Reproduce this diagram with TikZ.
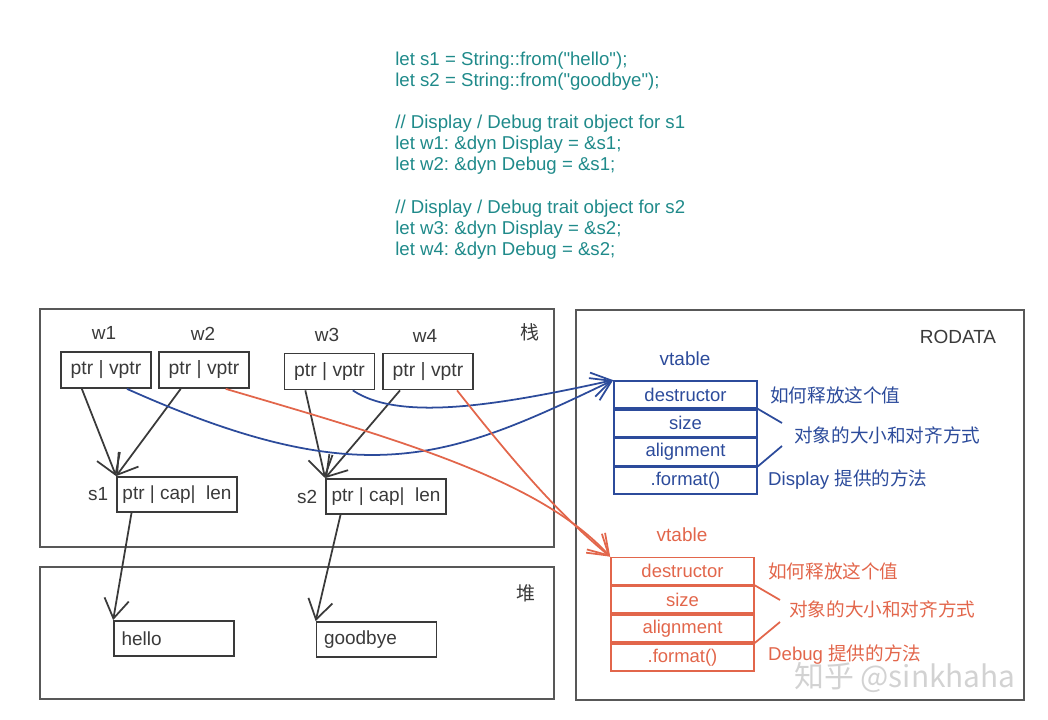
\documentclass[tikz,border=0pt]{standalone}
\usepackage{fontspec}
\setmainfont{Liberation Sans}
\newfontfamily\codefont{Liberation Sans}[Ligatures=TeXOff]
\newfontfamily\cjk{Noto Sans CJK SC}
\usepackage{tikz}
\usetikzlibrary{positioning}
\usetikzlibrary{arrows.meta}
\definecolor{codeteal}{HTML}{1F8A8A}
\definecolor{vblue}{HTML}{2C4B9B}
\definecolor{vred}{HTML}{E2664B}
\definecolor{boxgray}{HTML}{3A3A3A}
\frenchspacing
\tikzset{
	fatptr/.style={draw=boxgray, line width=1pt, minimum width=1.8cm, minimum height=0.72cm, inner sep=0pt, text=boxgray, font=\fontsize{11}{13}\selectfont},
	strbox/.style={fatptr, minimum width=2.4cm, minimum height=0.7cm, font=\fontsize{10.8}{13}\selectfont},
	heapbox/.style={strbox, text width=2.1cm, inner xsep=0.15cm, align=left},
	vrow/.style={draw, line width=1pt, minimum width=2.86cm, minimum height=0.54cm, inner sep=0pt, font=\fontsize{10.5}{12}\selectfont},
	lbl/.style={text=boxgray, font=\fontsize{10.8}{12}\selectfont},
	note/.style={anchor=west, font=\fontsize{10.6}{12}\selectfont},
	ptrarrow/.style={-{Straight Barb[length=11pt,width=14pt]}, line width=1pt, boxgray},
	varrow/.style={-{Straight Barb[length=11pt,width=14pt]}, line width=1pt},
	frame/.style={draw=boxgray!85, line width=1.1pt}
}
\begin{document}
\begin{tikzpicture}[x=0.02cm,y=-0.02cm]
				\useasboundingbox (0,0) rectangle (1048,720);
				%Code
				\node[anchor=north west, align=left, text=codeteal, font=\codefont\fontsize{10.6}{11.9}\selectfont, inner sep=0pt] (code) at (395,52)
					{let s1 = String::from("hello");\\
					let s2 = String::from("goodbye");\\[11.9pt]
					// Display / Debug trait object for s1\\
					let w1: \&dyn Display = \&s1;\\
					let w2: \&dyn Debug = \&s1;\\[12.5pt]
					// Display / Debug trait object for s2\\
					let w3: \&dyn Display = \&s2;\\
					let w4: \&dyn Debug = \&s2;};

				%Frames
				\draw[frame] (40,309) rectangle (554,547);
				\draw[frame] (40,567) rectangle (554,699);
				\draw[frame] (576,310) rectangle (1024,700);
				\node[lbl] (stacklbl) at (530,332) {\cjk 栈};
				\node[lbl] (heaplbl) at (526,593) {\cjk 堆};
				\node[lbl] (rolbl) at (958,337) {RODATA};

				%Nodes
				\node[fatptr] (w1box) at (106,370) {ptr | vptr};
				\node[fatptr] (w2box) at (204,370) {ptr | vptr};
				\node[fatptr] (w3box) at (329.5,371.5) {ptr | vptr};
				\node[fatptr] (w4box) at (428,371.5) {ptr | vptr};
				\node[lbl] (w1) at (104,333) {w1};
				\node[lbl] (w2) at (203,334) {w2};
				\node[lbl] (w3) at (327,335) {w3};
				\node[lbl] (w4) at (425,336) {w4};

				\node[strbox] (s1box) at (177,494.5) {ptr | cap| \ len};
				\node[strbox] (s2box) at (386,496.5) {ptr | cap| \ len};
				\node[lbl, left=1pt of s1box] (s1) {s1};
				\node[lbl, left=1pt of s2box] (s2) {s2};

				\node[heapbox] (hello) at (174,638.5) {hello};
				\node[heapbox] (goodbye) at (376.5,639.5) {goodbye};

				\node[vrow, vblue] (bdes) at (685.5,394.5) {destructor};
				\node[vrow, vblue, below=0pt of bdes] (bsize) {size};
				\node[vrow, vblue, below=0pt of bsize] (balign) {alignment};
				\node[vrow, vblue, below=0pt of balign] (bfmt) {.format()};
				\node[lbl, text=vblue] (bvt) at (685,359) {vtable};
				\node[note, text=vblue] (bn1) at (764,395) {\cjk 如何释放这个值};
				\node[note, text=vblue] (bn2) at (788,435) {\cjk 对象的大小和对齐方式};
				\node[note, text=vblue] (bn3) at (762,480) {Display {\cjk 提供的方法}};
				\coordinate (bc1) at (782,423);
				\coordinate (bc2) at (782,446);

				\node[vrow, vred] (rdes) at (682.5,571) {destructor};
				\node[vrow, vred, below=0pt of rdes] (rsize) {size};
				\node[vrow, vred, below=0pt of rsize] (ralign) {alignment};
				\node[vrow, vred, below=0pt of ralign] (rfmt) {.format()};
				\node[lbl, text=vred] (rvt) at (682,535) {vtable};
				\node[note, text=vred] (rn1) at (762,571) {\cjk 如何释放这个值};
				\node[note, text=vred] (rn2) at (783,609) {\cjk 对象的大小和对齐方式};
				\node[note, text=vred] (rn3) at (762,655) {Debug {\cjk 提供的方法}};
				\coordinate (rc1) at (780,600);
				\coordinate (rc2) at (780,622);

				\node[text=gray!35, font=\cjk\fontsize{17}{20}\selectfont] (mark) at (905,678) {知乎 @sinkhaha};

				%Lines
				\draw[ptrarrow] (w1box.218) -- (s1box.north west);
				\draw[ptrarrow] (w2box.219) -- (s1box.north west);
				\draw[ptrarrow] (w3box.218) -- (s2box.north west);
				\draw[ptrarrow] (w4box.214) -- (s2box.north west);
				\draw[ptrarrow] (s1box.202) -- (hello.north west);
				\draw[ptrarrow] (s2box.202) -- (goodbye.north west);

				\draw[varrow, vblue] (w1box.318) .. controls (364,495) and (449,459) .. (bdes.north west);
				\draw[varrow, vblue] (w3box.321) .. controls (400,422) and (500,405) .. (bdes.north west);
				\draw[varrow, vred] (w2box.319) .. controls (400,440) and (540,480) .. (rdes.north west);
				\draw[varrow, vred] (w4box.327) .. controls (520,470) and (560,515) .. (rdes.north west);

				\draw[line width=1pt, vblue] (bsize.north east) -- (bc1);
				\draw[line width=1pt, vblue] (balign.south east) -- (bc2);
				\draw[line width=1pt, vred] (rsize.north east) -- (rc1);
				\draw[line width=1pt, vred] (ralign.south east) -- (rc2);
\end{tikzpicture}
\end{document}
